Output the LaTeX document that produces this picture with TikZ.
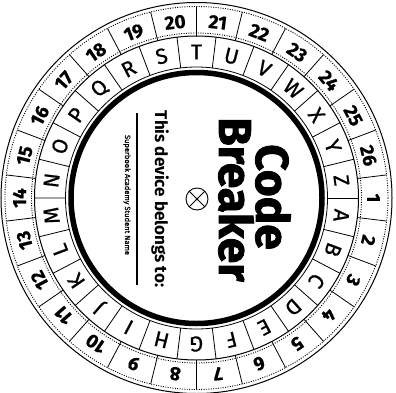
\documentclass[tikz,border=0pt]{standalone}
\usepackage{fontspec}
\setmainfont{Fira Sans}
\newfontfamily\titlefont[FakeBold=1.8]{Fira Sans}
\newfontfamily\ringfont[FakeBold=0.7]{Fira Sans}
\newfontfamily\numberfont[FakeBold=0.6]{Fira Sans}
\begin{document}
\begin{tikzpicture}[x=1pt,y=1pt,
  ringletter/.style={inner sep=0pt, font=\ringfont\fontsize{21.5}{21.5}\selectfont},
  ringnum/.style={inner sep=0pt, font=\numberfont\bfseries\fontsize{19}{19}\selectfont},
  thinline/.style={line width=0.8pt},
  cutline/.style={line width=0.9pt, dash pattern=on 1pt off 1.4pt},
  titletext/.style={inner sep=0pt, anchor=base, rotate=-90, font=\titlefont\bfseries\fontsize{46}{46}\selectfont},
]
\useasboundingbox (0,0) rectangle (396,392);
\coordinate (c) at (196.5,194);
% rings
\draw[line width=1pt] (c) circle (195.5);
\draw[cutline] (c) circle (191.5);
\draw[cutline] (c) circle (165);
\draw[line width=1pt] (c) circle (162);
\draw[thinline] (c) circle (131);
\draw[line width=5.5pt] (c) circle (125.5);
% dividers
\foreach \i in {0,...,25} {
  \draw[thinline] ([shift={({6.923-\i*13.846}:162)}]c) -- ([shift={({6.923-\i*13.846}:191.5)}]c);
  \draw[thinline] ([shift={({-\i*13.846}:131)}]c) -- ([shift={({-\i*13.846}:162)}]c);
}
% letters
\foreach \l [count=\k from 0] in {A,B,C,D,E,F,G,H,I,J,K,L,M,N,O,P,Q,R,S,T,U,V,W,X,Y,Z} {
  \node[ringletter, rotate={-6.923-\k*13.846-90}] (L\k) at ([shift={({-6.923-\k*13.846}:146)}]c) {\l};
}
% numbers
\foreach \n in {1,...,26} {
  \node[ringnum, rotate={-(\n-1)*13.846-90}] (N\n) at ([shift={({-(\n-1)*13.846}:177)}]c) {\n};
}
% centre texts
\node[titletext] (code) at (256,195) {Code};
\node[titletext] (breaker) at (219,192.5) {Breaker};
\node[inner sep=0pt, anchor=base, rotate=-90, font=\bfseries\fontsize{17}{17}\selectfont] (belongs) at (155,193) {This device belongs to:};
\coordinate (lt) at (137,279);
\coordinate (lb) at (137,107);
\draw[line width=2pt] (lt) -- (lb);
\node[inner sep=0pt, anchor=base, rotate=-90, font=\ringfont\fontsize{7.5}{7.5}\selectfont] (student) at (125,197) {Superbook Academy Student Name};
% cross circle
\coordinate (x) at (197,193);
\draw[line width=0.9pt] (x) circle (11);
\draw[line width=0.9pt] ([shift={(45:11)}]x) -- ([shift={(225:11)}]x);
\draw[line width=0.9pt] ([shift={(135:11)}]x) -- ([shift={(315:11)}]x);
\fill (x) circle (1.3);
\end{tikzpicture}
\end{document}
